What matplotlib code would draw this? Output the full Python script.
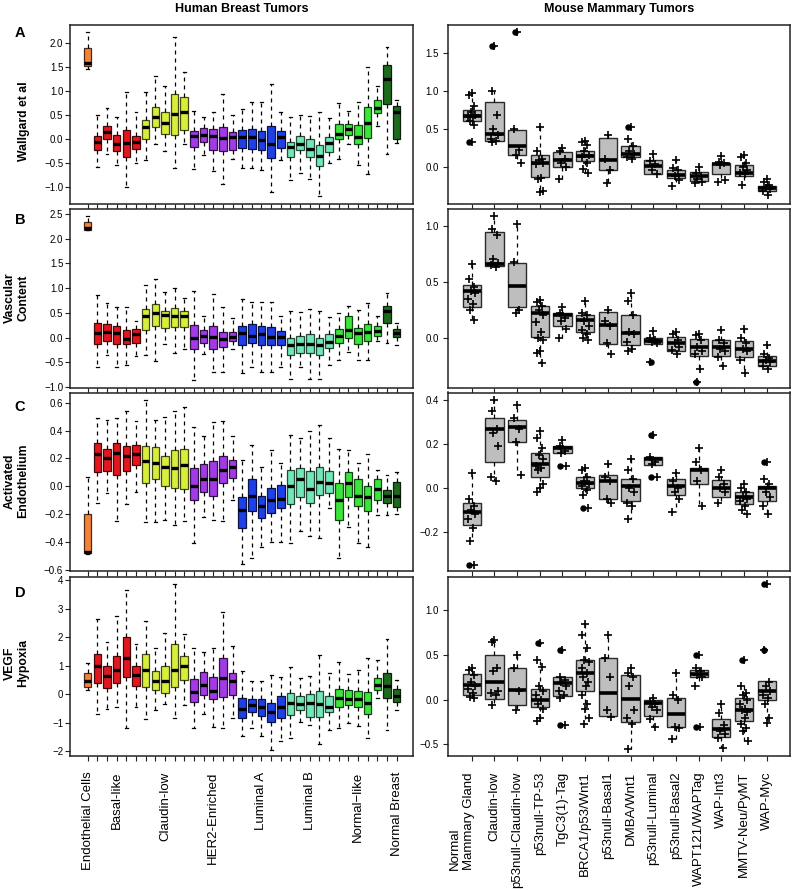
import matplotlib
matplotlib.use('Agg')
import matplotlib.pyplot as plt
import matplotlib.transforms as mtransforms
from matplotlib.ticker import FuncFormatter
import numpy as np

plt.rcParams['font.family'] = ['Liberation Sans', 'DejaVu Sans']

# ---------------- human breast tumors (33 boxes) ----------------
human_groups = ['Endothelial Cells', 'Basal-like', 'Claudin-low', 'HER2-Enriched',
                'Luminal A', 'Luminal B', 'Normal\u2212like', 'Normal Breast']
human_sizes = [1, 5, 5, 5, 5, 5, 5, 2]
human_label_pos = [1, 4, 9, 14, 19, 24, 29, 33]
human_colors = ['#F4833D', '#E3161E', '#D8EE3A', '#A23BE6',
                '#1E40E6', '#72E8B6', '#3BE53B', '#1D6A1D']

# Wallgard et al
wal_lo = [1.45, -0.58, -0.31, -0.55, -1.00, -0.50, -0.44, -0.10, -0.26, -0.61, -0.12,
          -0.64, -0.34, -0.67, -0.95, -0.42, -0.61, -0.61, -0.66, -1.12, -0.44,
          -0.85, -0.71, -0.83, -1.19, -0.50, -0.42, -0.12, -0.54, -0.74, 0.26, -0.31, -0.09]
wal_q1 = [1.52, -0.24, 0.00, -0.26, -0.38, -0.21, 0.00, 0.25, 0.10, 0.07, 0.18,
          -0.17, -0.06, -0.23, -0.25, -0.23, -0.19, -0.21, -0.23, -0.40, -0.19,
          -0.38, -0.24, -0.39, -0.57, -0.28, 0.00, 0.08, -0.12, 0.01, 0.54, 0.72, 0.00]
wal_med = [1.58, -0.07, 0.13, -0.10, -0.08, -0.07, 0.24, 0.45, 0.33, 0.52, 0.55,
           0.06, 0.08, 0.05, 0.01, 0.03, 0.03, 0.03, -0.02, -0.10, 0.03,
           -0.17, -0.10, -0.21, -0.35, -0.09, 0.10, 0.20, 0.03, 0.33, 0.64, 1.24, 0.56]
wal_q3 = [1.90, 0.05, 0.26, 0.08, 0.19, 0.06, 0.40, 0.67, 0.55, 0.94, 0.86,
          0.17, 0.22, 0.20, 0.24, 0.15, 0.19, 0.20, 0.17, 0.26, 0.17,
          -0.06, 0.06, -0.01, -0.14, 0.03, 0.30, 0.30, 0.28, 0.66, 0.81, 1.54, 0.69]
wal_hi = [2.22, 0.50, 0.63, 0.45, 0.98, 0.56, 0.98, 1.30, 1.09, 2.12, 1.40,
          0.58, 0.45, 0.56, 0.94, 0.49, 0.62, 0.77, 0.77, 1.14, 0.56,
          0.45, 0.49, 0.48, 0.55, 0.43, 0.74, 0.57, 0.77, 1.50, 1.10, 1.92, 0.80]

# Vascular content
vas_lo = [2.17, -0.60, -0.36, -0.60, -0.56, -0.37, -0.36, -0.47, -0.13, -0.31, -0.24,
          -0.86, -0.33, -0.70, -0.70, -0.23, -0.72, -0.60, -0.70, -0.70, -0.60,
          -0.83, -0.60, -0.83, -0.83, -0.56, -0.46, -0.29, -0.46, -0.46, -0.06, -0.10, -0.16]
vas_q1 = [2.18, -0.13, -0.06, -0.14, -0.14, -0.11, 0.16, 0.24, 0.19, 0.21, 0.21,
          -0.23, -0.11, -0.23, -0.19, -0.07, -0.16, -0.11, -0.15, -0.16, -0.16,
          -0.36, -0.31, -0.31, -0.36, -0.21, -0.11, 0.00, -0.13, -0.06, 0.04, 0.30, 0.01]
vas_med = [2.22, 0.09, 0.11, 0.10, -0.03, 0.07, 0.43, 0.49, 0.45, 0.44, 0.43,
           -0.01, 0.04, 0.01, -0.03, 0.01, 0.09, 0.04, 0.07, 0.02, 0.01,
           -0.16, -0.14, -0.14, -0.16, -0.08, 0.04, 0.16, 0.09, 0.12, 0.14, 0.54, 0.09]
vas_q3 = [2.33, 0.29, 0.27, 0.24, 0.15, 0.17, 0.58, 0.68, 0.54, 0.59, 0.54,
          0.25, 0.16, 0.23, 0.12, 0.11, 0.23, 0.27, 0.23, 0.21, 0.13,
          0.00, 0.03, 0.07, -0.01, 0.08, 0.17, 0.43, 0.19, 0.27, 0.23, 0.64, 0.17]
vas_hi = [2.46, 0.86, 0.70, 0.62, 0.61, 0.34, 1.06, 1.18, 0.92, 1.01, 0.80,
          0.94, 0.44, 0.89, 0.61, 0.39, 0.78, 0.72, 0.72, 0.72, 0.43,
          0.54, 0.51, 0.58, 0.54, 0.41, 0.49, 0.64, 0.56, 0.70, 0.44, 0.91, 0.30]

# Activated endothelium
act_lo = [-0.49, -0.12, -0.05, -0.25, -0.13, -0.04, -0.26, -0.26, -0.24, -0.28, -0.25,
          -0.41, -0.22, -0.24, -0.25, -0.10, -0.56, -0.52, -0.44, -0.40, -0.40,
          -0.41, -0.32, -0.36, -0.37, -0.16, -0.52, -0.29, -0.41, -0.44, -0.21, -0.21, -0.20]
act_q1 = [-0.48, 0.10, 0.11, 0.08, 0.11, 0.15, 0.02, 0.05, 0.00, -0.01, -0.02,
          -0.10, -0.04, -0.07, 0.02, 0.06, -0.30, -0.18, -0.23, -0.19, -0.16,
          -0.13, -0.08, -0.12, -0.06, -0.05, -0.24, -0.08, -0.14, -0.18, -0.10, -0.12, -0.15]
act_med = [-0.47, 0.23, 0.20, 0.24, 0.22, 0.23, 0.18, 0.17, 0.14, 0.13, 0.15,
           0.00, 0.05, 0.05, 0.12, 0.14, -0.17, -0.07, -0.14, -0.10, -0.09,
           0.00, 0.05, -0.02, 0.03, 0.02, -0.10, 0.02, -0.07, -0.08, -0.02, -0.07, -0.07]
act_q3 = [-0.20, 0.31, 0.27, 0.31, 0.29, 0.30, 0.29, 0.28, 0.22, 0.26, 0.27,
          0.13, 0.16, 0.18, 0.22, 0.19, -0.08, 0.05, -0.07, -0.01, 0.01,
          0.12, 0.13, 0.11, 0.14, 0.11, 0.02, 0.10, 0.05, 0.00, 0.05, -0.03, 0.03]
act_hi = [0.07, 0.49, 0.48, 0.49, 0.54, 0.47, 0.62, 0.48, 0.50, 0.54, 0.57,
          0.43, 0.36, 0.46, 0.47, 0.36, 0.19, 0.30, 0.14, 0.26, 0.17,
          0.37, 0.35, 0.40, 0.44, 0.35, 0.27, 0.26, 0.17, 0.23, 0.12, 0.08, 0.10]

# VEGF hypoxia
veg_lo = [0.15, -0.71, -0.53, -0.44, -1.20, -0.44, -0.88, -0.55, -0.35, -0.85, -0.38,
          -1.20, -0.71, -1.14, -1.18, -0.82, -1.46, -1.18, -1.47, -1.96, -1.65,
          -1.55, -0.96, -1.08, -1.75, -1.26, -1.20, -1.02, -1.12, -1.53, -0.14, -1.26, -0.54]
veg_q1 = [0.25, 0.39, 0.21, 0.41, 0.59, 0.29, 0.25, 0.15, 0.06, 0.25, 0.51,
          -0.28, -0.02, -0.18, -0.11, -0.02, -0.85, -0.61, -0.75, -0.99, -0.85,
          -0.73, -0.55, -0.79, -0.79, -0.64, -0.44, -0.38, -0.46, -0.71, 0.15, -0.14, -0.29]
veg_med = [0.45, 1.00, 0.65, 0.86, 1.27, 0.68, 0.86, 0.48, 0.45, 0.86, 1.00,
           0.09, 0.33, 0.13, 0.56, 0.45, -0.52, -0.38, -0.44, -0.61, -0.44,
           -0.32, -0.35, -0.32, -0.35, -0.44, -0.14, -0.18, -0.18, -0.32, 0.33, 0.29, -0.07]
veg_q3 = [0.74, 1.41, 1.01, 1.35, 2.00, 0.98, 1.42, 0.82, 0.98, 1.75, 1.36,
          0.54, 0.78, 0.62, 1.27, 0.76, -0.12, -0.18, -0.18, -0.32, -0.06,
          0.06, -0.06, 0.01, 0.12, -0.06, 0.19, 0.15, 0.12, 0.08, 0.56, 0.75, 0.18]
veg_hi = [1.09, 2.65, 1.82, 2.74, 3.68, 1.76, 2.56, 1.62, 2.15, 3.89, 2.12,
          1.62, 1.47, 1.62, 2.89, 1.70, 0.80, 0.45, 0.48, 0.66, 0.62,
          0.95, 0.56, 0.65, 1.39, 0.76, 1.12, 0.72, 0.86, 1.27, 1.21, 1.94, 0.50]

# ---------------- mouse mammary tumors (14 boxes) ----------------
mouse_labels = ['Normal\nMammary Gland', 'Claudin-low', 'p53null-Claudin-low', 'p53null-TP-53',
                'TgC3(1)-Tag', 'BRCA1/p53/Wnt1', 'p53null-Basal1', 'DMBA/Wnt1',
                'p53null-Luminal', 'p53null-Basal2', 'WAPT121/WAPTag', 'WAP-Int3',
                'MMTV-Neu/PyMT', 'WAP-Myc']

m_wal_lo = [0.55, 0.33, 0.05, -0.34, -0.16, -0.08, -0.22, 0.10, -0.10, -0.26, -0.22, -0.20, -0.25, -0.38]
m_wal_q1 = [0.60, 0.34, 0.15, -0.14, -0.01, 0.07, -0.04, 0.13, -0.10, -0.15, -0.19, -0.10, -0.13, -0.32]
m_wal_med = [0.67, 0.43, 0.27, 0.05, 0.08, 0.14, 0.08, 0.17, 0.01, -0.11, -0.13, 0.035, -0.09, -0.29]
m_wal_q3 = [0.75, 0.85, 0.49, 0.15, 0.19, 0.20, 0.38, 0.27, 0.08, -0.04, -0.07, 0.05, 0.02, -0.26]
m_wal_hi = [0.97, 1.00, 0.50, 0.53, 0.24, 0.34, 0.42, 0.37, 0.16, 0.09, 0.00, 0.14, 0.15, -0.17]
m_wal_pts = [[0.97, 0.95, 0.80, 0.72, 0.68, 0.66, 0.65, 0.60, 0.55, 0.33],
             [1.60, 1.00, 0.68, 0.50, 0.42, 0.37, 0.34, 0.33],
             [1.78, 0.50, 0.22, 0.15, 0.05],
             [0.53, 0.20, 0.10, 0.08, 0.05, 0.03, -0.15, -0.17, -0.32, -0.34],
             [0.24, 0.20, 0.10, 0.05, 0.00, -0.16],
             [0.34, 0.32, 0.28, 0.20, 0.15, 0.12, 0.05, -0.03, -0.08],
             [0.42, 0.10, -0.05, -0.22],
             [0.52, 0.37, 0.27, 0.20, 0.16, 0.13, 0.10],
             [0.16, 0.07, 0.03, -0.05, -0.10],
             [0.09, -0.02, -0.05, -0.12, -0.18, -0.26],
             [0.00, -0.08, -0.13, -0.16, -0.20, -0.22],
             [0.14, 0.06, 0.04, 0.02, -0.18, -0.20],
             [0.15, 0.12, 0.05, 0.00, -0.05, -0.08, -0.10, -0.25],
             [-0.17, -0.20, -0.24, -0.28, -0.30, -0.33, -0.38]]
m_wal_out = [[0.33], [1.60], [1.78], [], [], [], [], [0.52], [], [], [], [], [], []]

m_vas_lo = [0.16, 0.63, 0.22, -0.23, 0.00, -0.02, -0.15, -0.12, -0.06, -0.15, -0.28, -0.25, -0.32, -0.28]
m_vas_q1 = [0.27, 0.64, 0.27, 0.01, 0.10, 0.05, -0.06, -0.07, -0.06, -0.12, -0.16, -0.16, -0.17, -0.25]
m_vas_med = [0.42, 0.66, 0.46, 0.22, 0.20, 0.16, 0.11, 0.04, -0.03, -0.05, -0.08, -0.08, -0.10, -0.21]
m_vas_q3 = [0.47, 0.94, 0.67, 0.28, 0.22, 0.20, 0.23, 0.20, 0.00, 0.01, -0.01, -0.02, -0.03, -0.16]
m_vas_hi = [0.66, 1.09, 1.02, 0.34, 0.27, 0.33, 0.25, 0.40, 0.06, 0.05, 0.03, 0.07, 0.08, -0.07]
m_vas_pts = [[0.66, 0.52, 0.45, 0.42, 0.40, 0.35, 0.30, 0.25, 0.16],
             [1.09, 0.97, 0.92, 0.70, 0.67, 0.65, 0.63],
             [1.02, 0.68, 0.25, 0.22],
             [0.34, 0.32, 0.28, 0.25, 0.20, 0.14, 0.05, 0.00, -0.02, -0.12, -0.14, -0.23],
             [0.27, 0.22, 0.18, 0.15, 0.08, 0.00],
             [0.33, 0.22, 0.20, 0.15, 0.10, 0.07, 0.03, 0.00, -0.02],
             [0.25, 0.15, 0.10, -0.05, -0.15],
             [0.40, 0.33, 0.20, 0.05, 0.03, -0.04, -0.10, -0.12],
             [0.06, 0.00, -0.02, -0.04, -0.05, -0.22],
             [0.05, 0.03, -0.02, -0.05, -0.08, -0.11, -0.15],
             [0.03, 0.02, -0.02, -0.08, -0.12, -0.15, -0.28, -0.40],
             [0.07, -0.02, -0.05, -0.10, -0.12, -0.17, -0.25],
             [0.08, 0.00, -0.05, -0.10, -0.12, -0.20, -0.32],
             [-0.07, -0.15, -0.18, -0.20, -0.22, -0.25, -0.28]]
m_vas_out = [[], [], [], [], [], [], [], [], [-0.22], [], [-0.40], [], [], []]

m_act_lo = [-0.24, 0.03, 0.06, -0.02, 0.16, -0.03, -0.07, -0.14, 0.105, -0.11, -0.08, -0.07, -0.12, -0.12]
m_act_q1 = [-0.17, 0.12, 0.21, 0.05, 0.16, 0.00, -0.05, -0.06, 0.105, -0.03, 0.02, -0.04, -0.075, -0.06]
m_act_med = [-0.11, 0.267, 0.28, 0.11, 0.18, 0.025, 0.03, 0.01, 0.13, 0.01, 0.08, 0.00, -0.04, 0.00]
m_act_q3 = [-0.07, 0.32, 0.31, 0.16, 0.19, 0.05, 0.06, 0.04, 0.14, 0.04, 0.09, 0.035, -0.02, 0.01]
m_act_hi = [0.07, 0.40, 0.38, 0.26, 0.22, 0.09, 0.11, 0.13, 0.14, 0.07, 0.18, 0.08, 0.02, 0.04]
m_act_pts = [[0.07, -0.05, -0.08, -0.10, -0.12, -0.14, -0.18, -0.24, -0.35],
             [0.40, 0.35, 0.27, 0.25, 0.19, 0.05, 0.03],
             [0.38, 0.32, 0.27, 0.21, 0.06],
             [0.26, 0.23, 0.18, 0.15, 0.13, 0.10, 0.09, 0.08, 0.02, 0.00, -0.02],
             [0.22, 0.19, 0.17, 0.16, 0.10],
             [0.09, 0.08, 0.05, 0.03, 0.02, 0.01, -0.01, -0.03, -0.09],
             [0.11, 0.05, 0.03, -0.05, -0.07],
             [0.13, 0.08, 0.04, 0.00, -0.02, -0.07, -0.08, -0.14],
             [0.24, 0.14, 0.12, 0.11, 0.05],
             [0.07, 0.03, 0.00, -0.02, -0.05, -0.11],
             [0.18, 0.12, 0.08, 0.03, -0.08],
             [0.08, 0.05, 0.02, 0.00, -0.02, -0.07],
             [0.02, 0.00, -0.02, -0.04, -0.05, -0.06, -0.08, -0.10, -0.12],
             [0.12, 0.04, 0.02, -0.02, -0.04, -0.08, -0.12]]
m_act_out = [[-0.35], [], [], [], [0.10], [-0.09], [], [], [0.24, 0.05], [], [], [], [], [0.12]]

m_veg_lo = [0.02, -0.06, -0.12, -0.24, 0.02, -0.27, -0.19, -0.55, -0.30, -0.44, 0.15, -0.54, -0.46, -0.26]
m_veg_q1 = [0.056, 0.01, -0.064, -0.08, 0.04, 0.095, -0.18, -0.25, -0.18, -0.31, 0.255, -0.42, -0.24, 0.00]
m_veg_med = [0.17, 0.20, 0.105, 0.00, 0.19, 0.30, 0.075, 0.01, -0.04, -0.165, 0.29, -0.33, -0.11, 0.10]
m_veg_q3 = [0.285, 0.50, 0.36, 0.12, 0.255, 0.44, 0.47, 0.275, 0.00, 0.02, 0.33, -0.215, 0.02, 0.21]
m_veg_hi = [0.35, 0.67, 0.50, 0.44, 0.26, 0.85, 0.72, 0.35, 0.02, 0.30, 0.36, -0.05, 0.15, 0.21]
m_veg_pts = [[0.35, 0.33, 0.28, 0.20, 0.15, 0.12, 0.07, 0.03, 0.02],
             [0.67, 0.65, 0.36, 0.32, 0.10, 0.08, 0.05, -0.06],
             [0.50, 0.35, 0.10, -0.12],
             [0.64, 0.44, 0.37, 0.15, 0.10, 0.05, 0.00, -0.05, -0.10, -0.20, -0.24],
             [0.56, 0.25, 0.22, 0.20, 0.15, 0.10, 0.05, 0.02, -0.28],
             [0.85, 0.72, 0.58, 0.45, 0.42, 0.35, 0.30, 0.25, 0.20, 0.15, 0.05, -0.05, -0.10, -0.20, -0.27],
             [0.72, 0.47, 0.26, -0.12, -0.19],
             [0.35, 0.30, 0.25, 0.15, -0.12, -0.20, -0.27, -0.55],
             [0.02, -0.02, -0.05, -0.08, -0.12, -0.22, -0.30],
             [0.30, 0.05, 0.00, -0.30, -0.32, -0.44],
             [0.50, 0.36, 0.32, 0.28, 0.25, 0.15, -0.30],
             [-0.05, -0.15, -0.28, -0.35, -0.38, -0.43, -0.54],
             [0.45, 0.15, 0.08, 0.05, 0.00, -0.05, -0.10, -0.12, -0.14, -0.20, -0.27, -0.32, -0.35, -0.46],
             [1.30, 0.56, 0.20, 0.15, 0.10, 0.05, 0.02, -0.05, -0.20, -0.26]]
m_veg_out = [[], [], [], [0.64], [0.56, -0.28], [], [], [], [], [], [0.50, -0.30], [], [0.45], [1.30, 0.56]]

# fixed horizontal spread for the points of each mouse group
jitter = np.array([0.0, -0.12, 0.10, -0.05, 0.15, -0.16, 0.06, -0.09, 0.12,
                   0.03, -0.14, 0.08, -0.02, 0.17, -0.07])

W, H = 794, 890
fig = plt.figure(figsize=(W / 100, H / 100), dpi=100)


def minus_fmt(fmt):
    return FuncFormatter(lambda v, p: (fmt % v).replace('-', '\u2212'))


def style_axes(ax):
    for s in ax.spines.values():
        s.set_linewidth(1.1)
        s.set_color('#222222')
    ax.tick_params(axis='both', direction='out', length=3.6, width=0.8, labelsize=7,
                   color='#222222')
    ax.tick_params(axis='y', pad=1.5)


def darker(c, f=0.32):
    r, g, b = matplotlib.colors.to_rgb(c)
    return (r * f, g * f, b * f)


box_colors = []
for c, n in zip(human_colors, human_sizes):
    box_colors += [c] * n

rows = [(25, 203.5), (209, 388), (392.5, 571), (577, 756)]


def ax_rect(x0, x1, row):
    t, b = rows[row]
    return [x0 / W, 1 - b / H, (x1 - x0) / W, (b - t) / H]


def human_panel(row, lo, q1, med, q3, hi, ylim, yticks, fmt):
    ax = fig.add_axes(ax_rect(70.3, 413.3, row))
    stats = [dict(whislo=a, q1=b, med=c, q3=d, whishi=e)
             for a, b, c, d, e in zip(lo, q1, med, q3, hi)]
    pos = np.arange(1, len(stats) + 1)
    art = ax.bxp(stats, positions=pos, widths=0.78, patch_artist=True, showfliers=False,
                 capwidths=0.3,
                 boxprops=dict(linewidth=0.9),
                 whiskerprops=dict(linewidth=0.9, linestyle=(0, (3.2, 3.2)), color='black'),
                 capprops=dict(linewidth=0.9, color='black'),
                 medianprops=dict(color='black', linewidth=2.4, solid_capstyle='butt'))
    for patch, c in zip(art['boxes'], box_colors):
        patch.set_facecolor(c)
        patch.set_edgecolor(darker(c))
    ax.set_xlim(-0.8, 34.72)
    ax.set_ylim(*ylim)
    ax.set_yticks(yticks)
    ax.yaxis.set_major_formatter(minus_fmt(fmt))
    ax.set_xticks(pos)
    style_axes(ax)
    if row == 3:
        labels = [''] * len(pos)
        for p, name in zip(human_label_pos, human_groups):
            labels[p - 1] = name
        ax.set_xticklabels(labels, rotation=90, fontsize=9.5)
        ax.tick_params(axis='x', pad=7.5)
    else:
        ax.set_xticklabels([])
    return ax


def mouse_panel(row, lo, q1, med, q3, hi, pts, outs, ylim, yticks):
    ax = fig.add_axes(ax_rect(447.7, 790, row))
    stats = [dict(whislo=a, q1=b, med=c, q3=d, whishi=e)
             for a, b, c, d, e in zip(lo, q1, med, q3, hi)]
    pos = np.arange(1, len(stats) + 1)
    ax.bxp(stats, positions=pos, widths=0.8, patch_artist=True, showfliers=False,
           showcaps=False,
           boxprops=dict(linewidth=1.0, facecolor='#BEBEBE', edgecolor='#2a2a2a'),
           whiskerprops=dict(linewidth=0.9, linestyle=(0, (3.2, 3.2)), color='black'),
           medianprops=dict(color='black', linewidth=2.6, solid_capstyle='butt'))
    for i, (p, o) in enumerate(zip(pts, outs)):
        xs = pos[i] + np.resize(jitter, len(p))
        ax.plot(xs, p, '+', color='black', ms=6, mew=1.2, zorder=4)
        if o:
            ax.plot([pos[i] - 0.1] * len(o), o, 'o', color='black', ms=3.6, zorder=4)
    ax.set_xlim(-0.06, 15.03)
    ax.set_ylim(*ylim)
    ax.set_yticks(yticks)
    ax.yaxis.set_major_formatter(minus_fmt('%.1f'))
    ax.set_xticks(pos)
    style_axes(ax)
    ax.tick_params(axis='y', pad=3)
    if row == 3:
        labels = [''] + mouse_labels[1:]
        ax.set_xticklabels(labels, rotation=90, fontsize=9.5)
        ax.tick_params(axis='x', pad=7.5)
        tr = mtransforms.blended_transform_factory(ax.transData, ax.transAxes)
        ax.text(1.15, -16.0 / 179, mouse_labels[0], transform=tr, rotation=90,
                ha='right', va='top', multialignment='left', fontsize=9.5)
    else:
        ax.set_xticklabels([])
    return ax


human_panel(0, wal_lo, wal_q1, wal_med, wal_q3, wal_hi, (-1.35, 2.37),
            np.arange(-1.0, 2.01, 0.5), '%.1f')
human_panel(1, vas_lo, vas_q1, vas_med, vas_q3, vas_hi, (-1.02, 2.6),
            np.arange(-1.0, 2.51, 0.5), '%.1f')
human_panel(2, act_lo, act_q1, act_med, act_q3, act_hi, (-0.61, 0.675),
            np.arange(-0.6, 0.61, 0.2), '%.1f')
human_panel(3, veg_lo, veg_q1, veg_med, veg_q3, veg_hi, (-2.17, 4.12),
            np.arange(-2, 4.1, 1), '%d')

mouse_panel(0, m_wal_lo, m_wal_q1, m_wal_med, m_wal_q3, m_wal_hi, m_wal_pts, m_wal_out,
            (-0.49, 1.875), [0.0, 0.5, 1.0, 1.5])
mouse_panel(1, m_vas_lo, m_vas_q1, m_vas_med, m_vas_q3, m_vas_hi, m_vas_pts, m_vas_out,
            (-0.45, 1.15), [0.0, 0.5, 1.0])
mouse_panel(2, m_act_lo, m_act_q1, m_act_med, m_act_q3, m_act_hi, m_act_pts, m_act_out,
            (-0.378, 0.435), [-0.2, 0.0, 0.2, 0.4])
mouse_panel(3, m_veg_lo, m_veg_q1, m_veg_med, m_veg_q3, m_veg_hi, m_veg_pts, m_veg_out,
            (-0.63, 1.374), [-0.5, 0.0, 0.5, 1.0])

# titles, panel letters, row labels
fig.text(241.7 / W, 1 - 9 / H, 'Human Breast Tumors', ha='center', va='center',
         fontsize=9, fontweight='bold')
fig.text(619 / W, 1 - 9 / H, 'Mouse Mammary Tumors', ha='center', va='center',
         fontsize=9, fontweight='bold')

for letter, y in zip('ABCD', [33, 220, 407, 593]):
    fig.text(20 / W, 1 - y / H, letter, ha='center', va='center',
             fontsize=10.5, fontweight='bold')

row_labels = ['Wallgard et al', 'Vascular\nContent', 'Activated\nEndothelium', 'VEGF\nHypoxia']
row_label_x = [24, 16.5, 16.5, 16.5]
row_label_y = [121, 298, 481, 663]
for lab, x, y in zip(row_labels, row_label_x, row_label_y):
    fig.text(x / W, 1 - y / H, lab, rotation=90, ha='center', va='center',
             fontsize=8.8, fontweight='bold', multialignment='center')

fig.savefig('out.png', dpi=100)
